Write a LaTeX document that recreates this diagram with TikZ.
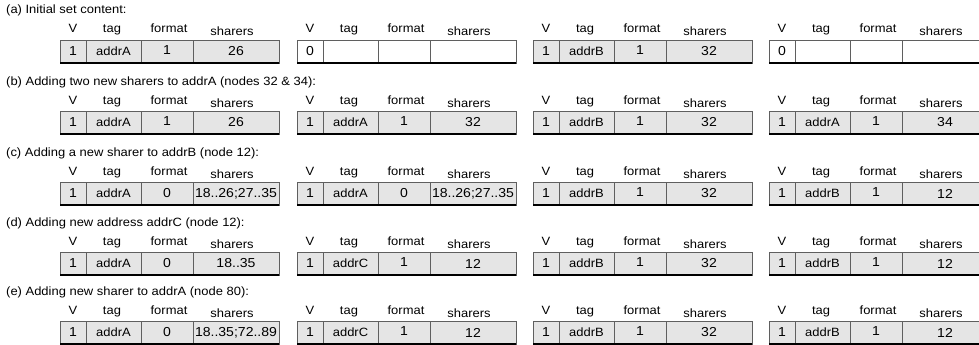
\documentclass[tikz,border=0pt]{standalone}
\usepackage{fontspec}
\setmainfont{Liberation Sans}[FakeStretch=1.08]
\definecolor{cellfill}{RGB}{229,229,229}
\definecolor{cellborder}{RGB}{95,95,95}
\newcommand\pfont{\fontsize{12}{14}\selectfont}
\newcommand\numfont{\fontsize{13}{15}\selectfont}
\tikzset{
  cell/.style={draw=cellborder, line width=0.7pt, minimum height=23pt, inner sep=0pt, outer sep=0pt, anchor=north west},
  full/.style={fill=cellfill},
  vacant/.style={fill=white},
  hdr/.style={anchor=base, inner sep=0pt},
  ttl/.style={anchor=base west, inner sep=0pt},
  bottomline/.style={draw=black, line width=1.1pt},
}
% #1 prefix, #2 x, #3 top, #4 fill style, #5 V, #6 tag, #7 format, #8 sharers
\newcommand\DrawEntry[8]{%
  \coordinate (#1o) at (#2,#3);
  \node[cell,#4,minimum width=26pt,font=\numfont] (#1v) at (#1o) {#5};
  \node[cell,#4,minimum width=55pt] (#1t) at (#1v.north east) {\raisebox{-3pt}{#6}};
  \node[cell,#4,minimum width=52pt,font=\numfont] (#1f) at (#1t.north east) {\raisebox{2pt}{#7}};
  \node[cell,#4,minimum width=86pt,font=\numfont] (#1s) at (#1f.north east) {#8};
  \draw[bottomline] (#1v.south west) -- (#1s.south east);
  \node[hdr] (#1hv) at ([shift={(13,-7)}]#1o) {V};
  \node[hdr] (#1ht) at ([shift={(52,-7)}]#1o) {tag};
  \node[hdr] (#1hf) at ([shift={(109,-7)}]#1o) {format};
  \node[hdr] (#1hs) at ([shift={(172,-4)}]#1o) {sharers};
}
\begin{document}
\begin{tikzpicture}[x=1pt,y=-1pt,font=\pfont]
\useasboundingbox (0,0) rectangle (979,345);
\clip (0,0) rectangle (979,345);
% row a
\node[ttl] (ta) at (6,14) {(a) Initial set content:};
\DrawEntry{a1}{60}{40}{full}{1}{addrA}{1}{26}
\DrawEntry{a2}{297}{40}{vacant}{0}{}{}{}
\DrawEntry{a3}{533}{40}{full}{1}{addrB}{1}{32}
\DrawEntry{a4}{769}{40}{vacant}{0}{}{}{}
% row b
\node[ttl] (tb) at (6,85) {(b) Adding two new sharers to addrA (nodes 32 \& 34):};
\DrawEntry{b1}{60}{111}{full}{1}{addrA}{1}{26}
\DrawEntry{b2}{297}{111}{full}{1}{addrA}{1}{32}
\DrawEntry{b3}{533}{111}{full}{1}{addrB}{1}{32}
\DrawEntry{b4}{769}{111}{full}{1}{addrA}{1}{34}
% row c
\node[ttl] (tc) at (6,156) {(c) Adding a new sharer to addrB (node 12):};
\DrawEntry{c1}{60}{182}{full}{1}{addrA}{0}{18..26;27..35}
\DrawEntry{c2}{297}{182}{full}{1}{addrA}{0}{18..26;27..35}
\DrawEntry{c3}{533}{182}{full}{1}{addrB}{1}{32}
\DrawEntry{c4}{769}{182}{full}{1}{addrB}{1}{12}
% row d
\node[ttl] (td) at (6,226) {(d) Adding new address addrC (node 12):};
\DrawEntry{d1}{60}{252}{full}{1}{addrA}{0}{18..35}
\DrawEntry{d2}{297}{252}{full}{1}{addrC}{1}{12}
\DrawEntry{d3}{533}{252}{full}{1}{addrB}{1}{32}
\DrawEntry{d4}{769}{252}{full}{1}{addrB}{1}{12}
% row e
\node[ttl] (te) at (6,295) {(e) Adding new sharer to addrA (node 80):};
\DrawEntry{e1}{60}{321}{full}{1}{addrA}{0}{18..35;72..89}
\DrawEntry{e2}{297}{321}{full}{1}{addrC}{1}{12}
\DrawEntry{e3}{533}{321}{full}{1}{addrB}{1}{32}
\DrawEntry{e4}{769}{321}{full}{1}{addrB}{1}{12}
\end{tikzpicture}
\end{document}
